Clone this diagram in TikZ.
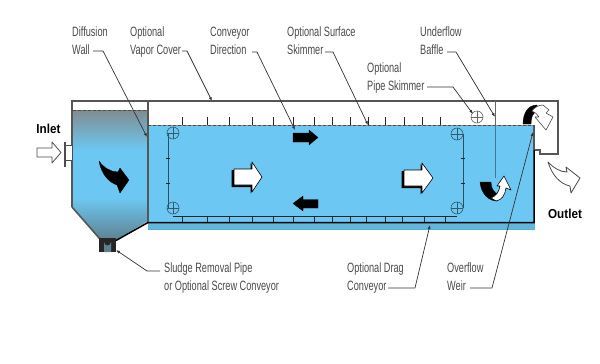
\documentclass[tikz,border=0pt]{standalone}
\usepackage{fontspec}
\setmainfont[FakeStretch=0.68]{Liberation Sans}
\newfontfamily\headfont[FakeStretch=0.9]{Liberation Sans}
\usetikzlibrary{arrows.meta}
\definecolor{water}{HTML}{6CC8F2}
\definecolor{waterdk}{HTML}{5BAFD6}
\definecolor{wallgray}{HTML}{565656}
\definecolor{labelgray}{HTML}{4A4A4A}
\definecolor{sludgetop}{HTML}{7F8C90}
\definecolor{sludgelow}{HTML}{5F7F8E}
\tikzset{
  tag/.style={font=\fontsize{13.5}{18}\selectfont, text=labelgray, align=left, anchor=north west, inner sep=0pt},
  head/.style={font=\headfont\bfseries\fontsize{13}{15}\selectfont, text=black, inner sep=0pt},
  leader/.style={draw=black!80, line width=0.7pt, line join=round},
  leaderend/.style={leader, -{Latex[length=4pt,width=3pt]}},
  flight/.style={draw=black!85, line width=0.6pt},
  chain/.style={draw=black!60!water, line width=0.9pt},
  sprocket/.style={draw=black!55!water, line width=0.6pt},
  blockarrow/.style={fill=white, draw=black, line width=0.6pt, line join=round},
  outlinearrow/.style={fill=white, draw=black!70, line width=0.8pt, line join=round},
  solidarrow/.style={fill=black, draw=black, line width=0.3pt, line join=round},
  wall/.style={draw=wallgray, line width=1.6pt, line join=miter},
  darkwall/.style={draw=black, line width=1.5pt, line join=miter},
  ripple/.style={draw=black!70, line width=0.8pt, dash pattern=on 3pt off 2pt},
}
\begin{document}
\begin{tikzpicture}[x=1pt,y=-1pt]
\useasboundingbox (0,0) rectangle (600,364);
\fill[white] (0,0) rectangle (600,364);

% settling chamber body with its hopper
\begin{scope}
  \clip (72,110) -- (148,110) -- (148,221) -- (116,240) -- (100,240) -- (72,207) -- cycle;
  \shade[top color=sludgetop, bottom color=water] (72,110) rectangle (148,150);
  \fill[water] (72,150) rectangle (148,198);
  \shade[top color=water, bottom color=sludgelow] (72,198) rectangle (148,241);
\end{scope}

% main basin water and floor band
\fill[water] (148,125) rectangle (534,222);
\fill[waterdk!70!water] (148,222) rectangle (535,229);
\draw[waterdk, line width=0.6pt] (148,229) -- (535,229);

% tank shell
\draw[wall] (72,207) -- (72,101) -- (558,101) -- (558,154) -- (540,154) -- (540,150) -- (534,150);
\draw[wall] (534,125) -- (534,150);
\draw[darkwall] (534,150) -- (534,222.5) -- (148,222.5) -- (116,240.5);
\draw[wall] (72,207) -- (100,239);
\draw[wall] (148,101) -- (148,222);

% sludge pipe
\fill[black!85] (99,238) rectangle (116,252);
\fill[sludgelow] (104,242) arc[start angle=180, end angle=0, radius=3.5] -- (111,252) -- (104,252) -- cycle;

% water surfaces
\draw[draw=black!45, line width=0.7pt] (148,125) -- (534,125);
\draw[ripple] (148,125) -- (534,125);
\draw[draw=black!55, line width=0.8pt] (73,110.5) -- (147,110.5);
\draw[ripple] (73,110) -- (147,110);

% drag conveyor
\draw[chain] (168,134) -- (168,208);
\draw[chain] (463,134) -- (463,208);
\draw[flight] (173,216) -- (457,216);
\foreach \px in {182,207,229,252,273,293,314,332,350,366,385,402,424,445}
  \draw[flight] (\px,216) -- (\px,222);
\foreach \px in {182,207,229,252,273,293,314,332,350,368,385,404,422,440}
  \draw[flight] (\px,117) -- (\px,125);
\foreach \py in {158,183}{
  \draw[flight] (166,\py) -- (170,\py);
  \draw[flight] (461,\py) -- (465,\py);
}
\foreach \cx/\cy in {173/133,173/208,457/134,457/208}{
  \draw[sprocket] (\cx,\cy) circle[radius=6];
  \draw[sprocket] (\cx-6,\cy) -- (\cx+6,\cy) (\cx,\cy-6) -- (\cx,\cy+6);
}
\draw[draw=black!60, line width=0.6pt] (477,117) circle[radius=6];
\draw[draw=black!60, line width=0.6pt] (471,117) -- (483,117) (477,111) -- (477,123);

% underflow baffle
\draw[draw=black!60, line width=0.7pt] (495,101) -- (495,125);
\draw[draw=black!40!water, line width=0.8pt] (495,125) -- (495,178);

% flow arrows inside the basin
\path[fill=black] (231.5,170) -- (250.5,170) -- (250.5,163) -- (261,178) -- (250.5,193.5) -- (250.5,187) -- (231.5,187) -- cycle;
\path[blockarrow] (234,169) -- (252,169) -- (252,162) -- (262,177) -- (252,192) -- (252,185) -- (234,185) -- cycle;
\path[fill=black] (401.5,171) -- (420.5,171) -- (420.5,164) -- (431,179) -- (420.5,194.5) -- (420.5,188) -- (401.5,188) -- cycle;
\path[blockarrow] (404,170) -- (422,170) -- (422,163) -- (433,178) -- (422,193) -- (422,186) -- (404,186) -- cycle;
\path[solidarrow] (293,133) -- (309,133) -- (309,130) -- (318,137.5) -- (309,145) -- (309,142) -- (293,142) -- cycle;
\path[solidarrow] (318,199.5) -- (303,199.5) -- (303,196) -- (293,203.5) -- (303,211) -- (303,208) -- (318,208) -- cycle;
\path[solidarrow] (99,161) .. controls (104,168) and (111,172) .. (118,172) -- (120,168) -- (129,180) -- (120,193) -- (117,185) .. controls (108,182) and (101,173) .. (99,161) -- cycle;
\path[solidarrow] (480,182) -- (491,182) .. controls (491,188) and (494,193) .. (498,194) -- (497,201) .. controls (488,201) and (481,193) .. (480,182) -- cycle;
\path[blockarrow] (504,176) -- (511,190) -- (506,188) .. controls (505,195) and (502,200) .. (496,201) -- (491,198) .. controls (496,196) and (499,192) .. (500,186) -- (497,186) -- cycle;

% overflow weir crest with the arrow passing over it
\path[solidarrow] (523,124) .. controls (523,113) and (528,105) .. (537,105) -- (538,111) .. controls (533,112) and (531,117) .. (531,124) -- cycle;
\path[blockarrow, draw=black!70] (532,111) .. controls (534,108) and (538,105) .. (543,105) -- (549,110) -- (546,113) -- (553,117) -- (546,130) -- (535,117) -- (539,117) .. controls (537,114) and (535,112) .. (532,111) -- cycle;

% inlet nozzle and inlet/outlet arrows
\draw[draw=black!70, line width=1.6pt] (65,142) -- (65,167);
\draw[draw=black!70, fill=white, line width=1pt] (65,145) rectangle (72,160);
\path[outlinearrow] (37,148) -- (52,148) -- (52,142) -- (61,152.5) -- (52,163) -- (52,157) -- (37,157) -- cycle;
\path[outlinearrow] (548,162) .. controls (554,168) and (560,172) .. (567,172) -- (566,167) -- (580,178) -- (571,193) -- (570,186) .. controls (560,184) and (552,175) .. (548,162) -- cycle;

\node[head] (inletText) at (48.5,129) {Inlet};
\node[head] (outletText) at (565,214) {Outlet};

% callout texts
\node[tag] (nDiffusion) at (72,27) {Diffusion\\Wall};
\node[tag] (nVapor)     at (130,27) {Optional\\Vapor Cover};
\node[tag] (nDirection) at (210,27) {Conveyor\\Direction};
\node[tag] (nSurface)   at (287,27) {Optional Surface\\Skimmer};
\node[tag] (nPipe)      at (367,63) {Optional\\Pipe Skimmer};
\node[tag] (nBaffle)    at (420,27) {Underflow\\Baffle};
\node[tag] (nSludge)    at (164,263) {Sludge Removal Pipe\\or Optional Screw Conveyor};
\node[tag] (nDrag)      at (347,263) {Optional Drag\\Conveyor};
\node[tag] (nWeir)      at (447,263) {Overflow\\Weir};

% leader start points beside the second text line
\coordinate (sDiffusion) at (93,51);
\coordinate (sVapor) at (182,51);
\coordinate (sDirection) at (252,52);
\coordinate (sSurface) at (325,52);
\coordinate (sPipe) at (427,87);
\coordinate (sBaffle) at (447,52);
\coordinate (sSludge) at (160,271);
\coordinate (sDrag) at (388,288);
\coordinate (sWeir) at (470,288);

% leader targets
\coordinate (tDiffusion) at (147,137);
\coordinate (tVapor) at (212,101);
\coordinate (tDirection) at (295,130);
\coordinate (tSurface) at (368,125);
\coordinate (tPipe) at (473,114);
\coordinate (tBaffle) at (495,117);
\coordinate (tSludge) at (116,250);
\coordinate (tDrag) at (430,225);
\coordinate (tWeir) at (533,132);

\draw[leaderend] (sDiffusion) -- (103,51) -- (tDiffusion);
\draw[leaderend] (sVapor) -- (187,51) -- (tVapor);
\draw[leaderend] (sDirection) -- (257,52) -- (tDirection);
\draw[leaderend] (sSurface) -- (333,52) -- (tSurface);
\draw[leaderend] (sPipe) -- (453,87) -- (tPipe);
\draw[leaderend] (sBaffle) -- (456,52) -- (tBaffle);
\draw[leaderend] (sSludge) -- (147,271) -- (tSludge);
\draw[leaderend] (sDrag) -- (415,288) -- (tDrag);
\draw[leaderend] (sWeir) -- (492,288) -- (tWeir);
\end{tikzpicture}
\end{document}
